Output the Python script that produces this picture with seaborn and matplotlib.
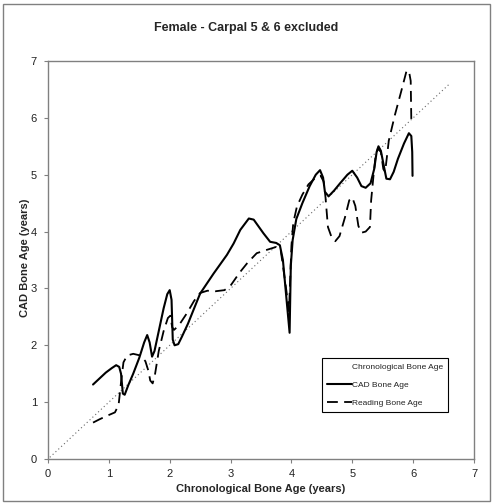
import matplotlib
matplotlib.use("Agg")
import matplotlib.pyplot as plt
import seaborn as sns
import pandas as pd
from matplotlib.patches import Rectangle

# ---- data ----
chrono_x = [0.03, 6.6]
chrono_y = [0.03, 6.6]

cad_x = [0.74, 0.85, 0.95, 1.05, 1.12, 1.17, 1.20, 1.23, 1.26, 1.32, 1.40, 1.50,
         1.58, 1.63, 1.67, 1.71, 1.75, 1.82, 1.90, 1.96, 2.00, 2.03, 2.05, 2.08,
         2.14, 2.20, 2.30, 2.39, 2.50, 2.72, 2.94, 3.05, 3.16, 3.30, 3.38, 3.54,
         3.65, 3.75, 3.81, 3.86, 3.92, 3.97, 3.99, 4.02, 4.08, 4.18, 4.30, 4.40,
         4.47, 4.52, 4.55, 4.61, 4.70, 4.80, 4.92, 5.00, 5.08, 5.15, 5.22, 5.30,
         5.36, 5.40, 5.43, 5.47, 5.51, 5.56, 5.62, 5.68, 5.75, 5.85, 5.93, 5.97,
         5.985, 5.99]
cad_y = [1.31, 1.42, 1.52, 1.60, 1.65, 1.62, 1.50, 1.15, 1.13, 1.30, 1.50, 1.78,
         2.05, 2.18, 2.05, 1.80, 1.90, 2.25, 2.65, 2.90, 2.97, 2.80, 2.10, 2.00,
         2.02, 2.15, 2.38, 2.62, 2.91, 3.26, 3.59, 3.79, 4.03, 4.23, 4.21, 3.97,
         3.82, 3.80, 3.76, 3.50, 2.80, 2.22, 3.40, 3.85, 4.22, 4.50, 4.80, 5.00,
         5.08, 4.95, 4.70, 4.62, 4.72, 4.85, 5.00, 5.07, 4.95, 4.80, 4.77, 4.85,
         5.10, 5.40, 5.50, 5.42, 5.20, 4.93, 4.92, 5.05, 5.28, 5.55, 5.73, 5.68,
         5.40, 4.98]

read_x = [0.74, 0.85, 0.97, 1.10, 1.16, 1.20, 1.24, 1.30, 1.40, 1.52, 1.60, 1.65,
          1.68, 1.72, 1.76, 1.82, 1.90, 1.97, 2.01, 2.04, 2.07, 2.15, 2.28, 2.40,
          2.50, 2.62, 2.75, 2.90, 3.00, 3.15, 3.27, 3.43, 3.60, 3.75, 3.82, 3.90,
          3.96, 4.00, 4.03, 4.09, 4.18, 4.28, 4.40, 4.48, 4.53, 4.56, 4.60, 4.66,
          4.72, 4.79, 4.88, 4.95, 5.00, 5.05, 5.10, 5.15, 5.22, 5.29, 5.31, 5.35,
          5.38, 5.42, 5.47, 5.51, 5.54, 5.60, 5.70, 5.80, 5.89, 5.93, 5.96, 5.97]
read_y = [0.64, 0.70, 0.76, 0.82, 0.95, 1.35, 1.70, 1.82, 1.85, 1.82, 1.72, 1.55,
          1.38, 1.33, 1.50, 1.90, 2.25, 2.48, 2.52, 2.32, 2.27, 2.35, 2.56, 2.78,
          2.92, 2.96, 2.95, 2.97, 3.05, 3.28, 3.44, 3.62, 3.68, 3.73, 3.70, 3.10,
          2.60, 3.75, 4.15, 4.44, 4.65, 4.83, 4.95, 4.98, 4.88, 4.60, 4.08, 3.90,
          3.83, 3.92, 4.25, 4.55, 4.60, 4.45, 4.10, 3.98, 4.00, 4.08, 4.55, 5.00,
          5.30, 5.46, 5.40, 5.10, 5.05, 5.60, 6.05, 6.45, 6.82, 6.83, 6.65, 5.95]

x_ticks = [0, 1, 2, 3, 4, 5, 6, 7]
y_ticks = [0, 1, 2, 3, 4, 5, 6, 7]
title = "Female - Carpal 5 & 6 excluded"
xlabel = "Chronological Bone Age (years)"
ylabel = "CAD Bone Age (years)"
labels = ["Chronological Bone Age", "CAD Bone Age", "Reading Bone Age"]

sns.set_theme(style="white")
plt.rcParams["font.family"] = ["Liberation Sans", "DejaVu Sans"]

fig = plt.figure(figsize=(4.93, 5.04), dpi=100)
ax = fig.add_axes([48/493, 1-459/504, 426/493, 398/504])

df_c = pd.DataFrame({"x": chrono_x, "y": chrono_y})
df_cad = pd.DataFrame({"x": cad_x, "y": cad_y})
df_r = pd.DataFrame({"x": read_x, "y": read_y})

sns.lineplot(data=df_c, x="x", y="y", ax=ax, sort=False, estimator=None,
             color="#666666", lw=0.8, linestyle=(0, (1, 2.5)), label=labels[0])
sns.lineplot(data=df_cad, x="x", y="y", ax=ax, sort=False, estimator=None,
             color="black", lw=1.5, label=labels[1])
sns.lineplot(data=df_r, x="x", y="y", ax=ax, sort=False, estimator=None,
             color="black", lw=1.3, linestyle=(0, (6, 3.5)), label=labels[2])

ax.set_xlim(0, 7)
ax.set_ylim(0, 7)
ax.set_xticks(x_ticks)
ax.set_yticks(y_ticks)
ax.tick_params(axis="both", direction="out", length=3, width=0.8, color="#808080",
               labelsize=8, labelcolor="#222222", bottom=True, left=True)
ax.tick_params(axis="x", pad=4)
ax.tick_params(axis="y", pad=5)
for s in ax.spines.values():
    s.set_color("#808080")
    s.set_linewidth(1.0)
    s.set_visible(True)

ax.set_xlabel(xlabel, fontsize=8, fontweight="bold", labelpad=4)
ax.set_ylabel(ylabel, fontsize=8, fontweight="bold")
ax.yaxis.set_label_coords(-18/426, 0.5 + (459 - 258 - 199) / 398)
fig.text(0.5, 1-28/504, title, ha="center", va="center", fontsize=9, fontweight="bold")

handles = ax.get_lines()[:3]
leg = ax.legend(handles, labels, loc="upper left", bbox_to_anchor=(0.643, 0.254),
                fontsize=6, frameon=True, fancybox=False, framealpha=1,
                edgecolor="black", handlelength=3.0, handletextpad=0.0,
                labelspacing=1.25, borderpad=0.6, borderaxespad=0)
leg.get_frame().set_linewidth(0.8)
leg.get_lines()[0].set_alpha(0)
for t in leg.get_texts():
    t.set_color("#222222")

fig.patches.append(Rectangle((3/493, 3/504), 487/493, 497/504, transform=fig.transFigure,
                             fill=False, edgecolor="#808080", lw=1.0))

fig.savefig("out.png", dpi=100, facecolor="white")
